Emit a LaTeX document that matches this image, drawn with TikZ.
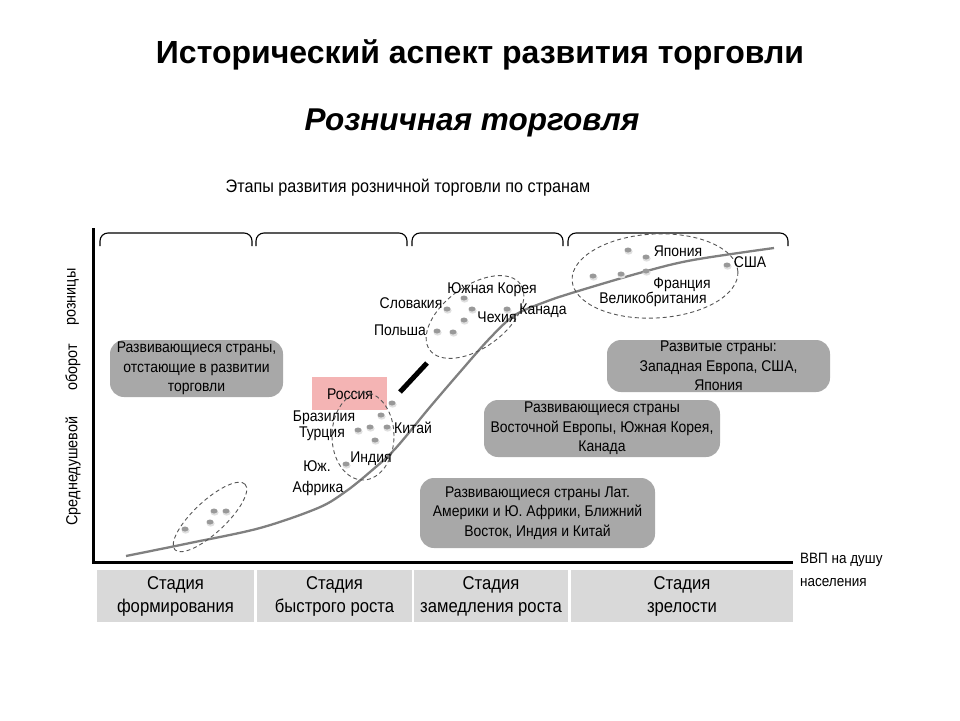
\documentclass[tikz,border=0pt]{standalone}
\usepackage{fontspec}
\setmainfont{Liberation Sans}
\newfontfamily\nf[FakeStretch=0.9]{Liberation Sans}
\usetikzlibrary{calc,shapes.geometric}
\pgfdeclarelayer{bg}
\pgfsetlayers{bg,main}
\definecolor{callgray}{RGB}{168,168,168}
\definecolor{cellgray}{RGB}{217,217,217}
\definecolor{rospink}{RGB}{244,180,180}
\definecolor{curvegray}{RGB}{128,128,128}
\definecolor{dashgray}{RGB}{85,85,85}
\tikzset{
  lbl/.style={inner sep=0pt, font=\nf\fontsize{15.5}{18}\selectfont},
  ylbl/.style={inner sep=0pt, rotate=90, font=\nf\fontsize{16}{20}\selectfont},
  callbox/.style={fill=callgray, rounded corners=14pt, inner sep=0pt, align=center,
     font=\nf\fontsize{15.5}{19.5}\selectfont},
  calltail/.style={fill=callgray},
  cell/.style={fill=cellgray, inner sep=0pt, align=center, minimum height=52pt,
     font=\nf\fontsize{18.5}{23}\selectfont},
  grp/.style={draw=dashgray, dash pattern=on 4pt off 3pt, line width=0.9pt},
  bracketline/.style={line width=1.1pt, rounded corners=8pt},
  divider/.style={line width=1.1pt},
  axis/.style={line width=3pt},
  mdot/.pic={\fill[gray!25] (0.6,1.6) ellipse [x radius=4pt, y radius=3pt];
             \fill[gray!80] (0,0) ellipse [x radius=3.5pt, y radius=2.5pt];}
}
\begin{document}
\begin{tikzpicture}[x=1pt,y=-1pt]
\useasboundingbox (0,0) rectangle (960,720);
\fill[white] (0,0) rectangle (960,720);

% titles
\node[font=\fontsize{32}{36}\bfseries\selectfont] (title) at (480,55) {Исторический аспект развития торговли};
\node[font=\fontsize{31.5}{36}\bfseries\itshape\selectfont] (subtitle) at (472,123) {Розничная торговля};
\node[lbl, font=\nf\fontsize{18}{20}\selectfont] (charttitle) at (408,188) {Этапы развития розничной торговли по странам};

% y labels
\node[ylbl] (yl1) at (73,471) {Среднедушевой};
\node[ylbl] (yl2) at (73,367) {оборот};
\node[ylbl] (yl3) at (73,297) {розницы};

% background: dividers and callout tails
\begin{pgfonlayer}{bg}
\coordinate (dv1t) at (254,243); \coordinate (dv1b) at (254,550);
\coordinate (dv2t) at (411,243); \coordinate (dv2b) at (411,550);
\coordinate (dv3t) at (567,243); \coordinate (dv3b) at (567,550);
\draw[divider] (dv1t) -- (dv1b);
\draw[divider] (dv2t) -- (dv2b);
\draw[divider] (dv3t) -- (dv3b);
\end{pgfonlayer}

% brackets
\draw[bracketline] (100,246) -- (100,233) -- (252,233) -- (252,246);
\draw[bracketline] (256,246) -- (256,233) -- (407,233) -- (407,246);
\draw[bracketline] (412,246) -- (412,233) -- (563,233) -- (563,246);
\draw[bracketline] (568,246) -- (568,233) -- (788,233) -- (788,246);

% axes
\coordinate (o) at (93,562);
\coordinate (ytop) at (93,228);
\coordinate (xend) at (793,562);
\draw[axis] (ytop) -- (o) -- (xend);

% Russia box
\node[fill=rospink, minimum width=75pt, minimum height=33pt, inner sep=0pt] (rus) at (349.5,393.5) {};
\node[lbl] (ruslbl) at (350,394) {Россия};

% curve
\draw[curvegray, line width=2.3pt] plot[smooth, tension=0.55] coordinates {
 (126,556) (190,543) (260,528) (318,508) (345,492) (370,472) (395,449) (430,407)
 (460,372) (490,338) (515,315) (545,302) (575,292) (643,272) (693,260) (774,248)};

% thick mark
\coordinate (tm1) at (400,392); \coordinate (tm2) at (427,363);
\draw[line width=5pt] (tm1) -- (tm2);

% group ellipses
\draw[grp, rotate around={43:(210,517)}] (210,517) ellipse [x radius=48pt, y radius=16pt];
\draw[grp] (363,436) ellipse [x radius=31pt, y radius=44pt];
\draw[grp, rotate around={36:(475,317)}] (475,317) ellipse [x radius=56pt, y radius=31pt];
\draw[grp, rotate around={3:(655,276)}] (655,276) ellipse [x radius=83pt, y radius=42pt];

% dots group 1
\pic at (185,529) {mdot}; \pic at (210,522) {mdot};
\pic at (214,511) {mdot}; \pic at (226,511) {mdot};
% dots group 2
\pic at (392,403) {mdot}; \pic at (381,415) {mdot}; \pic at (358,430) {mdot};
\pic at (370,427) {mdot}; \pic at (387,427) {mdot}; \pic at (375,440) {mdot};
\pic at (346,464) {mdot};
% dots group 3
\pic at (464,298) {mdot}; \pic at (447,309) {mdot}; \pic at (472,309) {mdot};
\pic at (464,320) {mdot}; \pic at (437,331) {mdot}; \pic at (453,332) {mdot};
\pic at (507,309) {mdot};
% dots group 4
\pic at (628,250) {mdot}; \pic at (646,257) {mdot}; \pic at (593,276) {mdot};
\pic at (621,274) {mdot}; \pic at (646,271) {mdot}; \pic at (727,265) {mdot};

% country labels
\node[lbl] (bra) at (324,418) {Бразилия};
\node[lbl] (tur) at (322,434) {Турция};
\node[lbl] (chn) at (413,428) {Китай};
\node[lbl] (ind) at (371,459) {Индия};
\node[lbl] (saf1) at (317,466) {Юж.};
\node[lbl] (saf2) at (318,488) {Африка};
\node[lbl] (kor) at (492,290) {Южная Корея};
\node[lbl] (svk) at (411,303) {Словакия};
\node[lbl] (cze) at (497,317) {Чехия};
\node[lbl] (can) at (543,311) {Канада};
\node[lbl] (pol) at (400,330) {Польша};
\node[lbl] (jpn) at (678,251) {Япония};
\node[lbl] (usa) at (750,262) {США};
\node[lbl] (fra) at (682,285) {Франция};
\node[lbl] (gbr) at (653,299) {Великобритания};

% callouts
\node[callbox, minimum width=173pt, minimum height=57pt] (c1) at (196.5,368.5)
  {Развивающиеся страны,\\отстающие в развитии\\торговли};
\node[callbox, minimum width=223pt, minimum height=52pt] (c2) at (718.5,366)
  {Развитые страны:\\Западная Европа, США,\\Япония};
\node[callbox, minimum width=236pt, minimum height=57pt] (c3) at (602,428.5)
  {Развивающиеся страны\\Восточной Европы, Южная Корея,\\Канада};
\node[callbox, minimum width=235pt, minimum height=70pt] (c4) at (537.5,513)
  {Развивающиеся страны Лат.\\Америки и Ю. Африки, Ближний\\Восток, Индия и Китай};

\coordinate (t1) at (203,498);
\coordinate (t2) at (657,318);
\coordinate (t3) at (492,346);
\coordinate (t4) at (397,450);
\begin{pgfonlayer}{bg}
\fill[calltail] (210,390) -- (t1) -- (246,390) -- cycle;
\fill[calltail] (640,345) -- (t2) -- (692,345) -- cycle;
\fill[calltail] (522,405) -- (t3) -- (575,405) -- cycle;
\fill[calltail] (432,490) -- (t4) -- (478,482) -- cycle;
\end{pgfonlayer}

% stage cells
\node[cell, minimum width=157pt] (s1) at (175.5,596) {Стадия\\формирования};
\node[cell, minimum width=155pt] (s2) at (334.5,596) {Стадия\\быстрого роста};
\node[cell, minimum width=154pt] (s3) at (491,596) {Стадия\\замедления роста};
\node[cell, minimum width=222pt] (s4) at (682,596) {Стадия\\зрелости};

% x label
\node[lbl, anchor=north west, align=left, font=\nf\fontsize{15}{23}\selectfont] (xl) at (800,553) {ВВП на душу\\населения};
\end{tikzpicture}
\end{document}
